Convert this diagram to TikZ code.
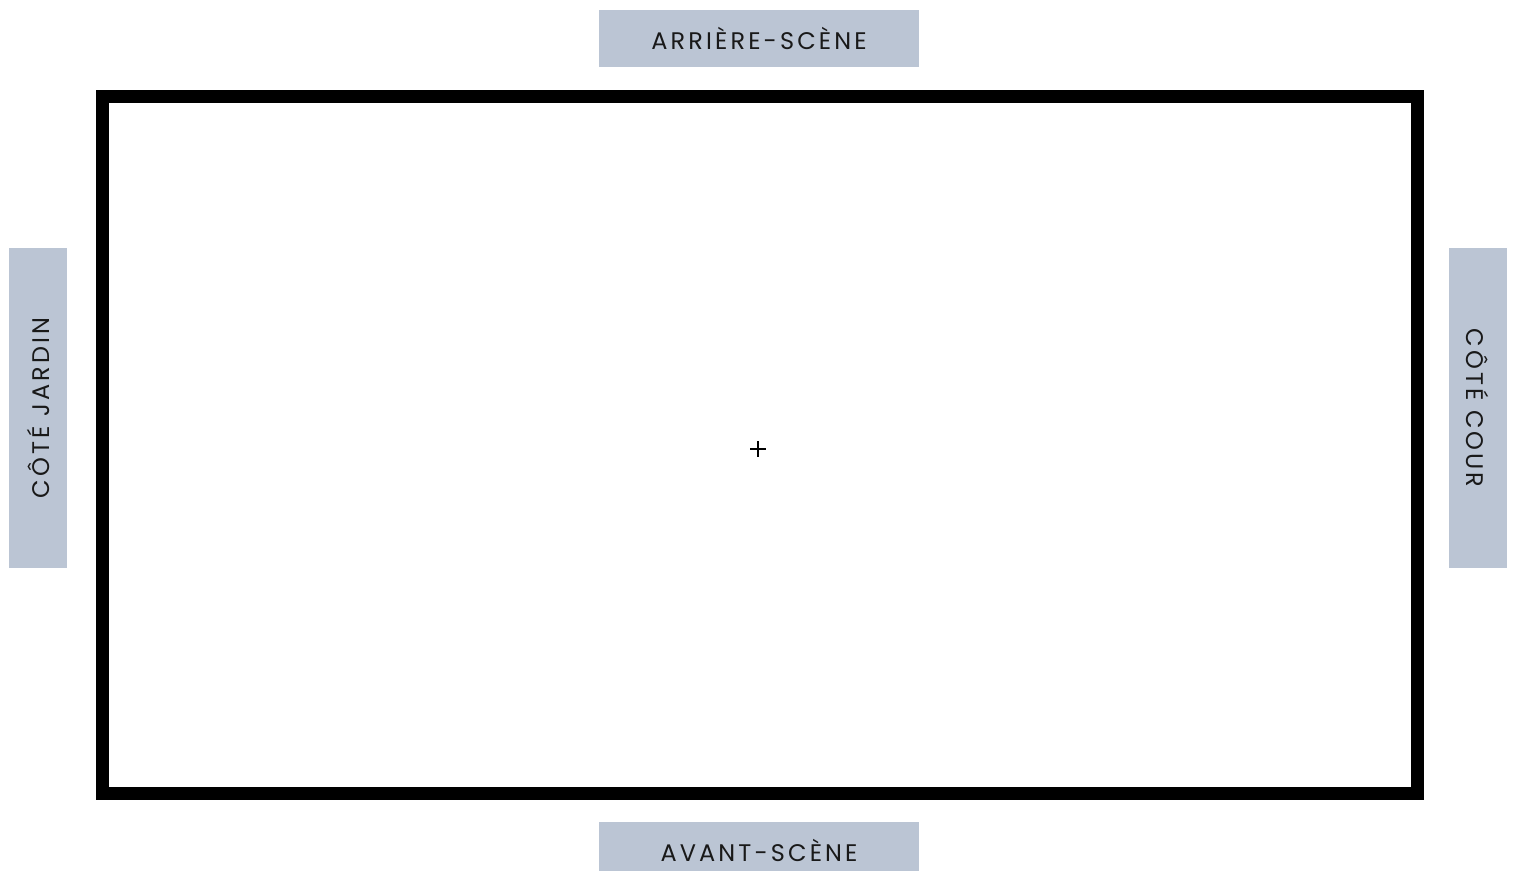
\documentclass[tikz,border=0pt]{standalone}
\usepackage{fontspec}
\setmainfont{Poppins}[LetterSpace=13]
\definecolor{tagfill}{HTML}{BBC5D4}
\begin{document}
\begin{tikzpicture}[x=0.5pt,y=-0.5pt,
  tag/.style={fill=tagfill,inner sep=0pt,font=\fontsize{12}{14}\selectfont,text=black!90},
  htag/.style={tag,minimum width=160pt,minimum height=28.5pt},
  vtag/.style={tag,minimum width=160pt,minimum height=29pt}]
\clip (0,0) rectangle (1515,871);
\fill[white] (0,0) rectangle (1515,871);
% stage outline
\draw[line width=6.5pt] (102.5,96.5) rectangle (1417.5,793);
% side tags
\node[htag] (back) at (759,38.5) {ARRIÈRE-SCÈNE};
\node[htag] (front) at (759,850.5) {AVANT-SCÈNE};
\node[vtag,rotate=90] (jardin) at (38,408) {CÔTÉ JARDIN};
\node[vtag,rotate=-90] (cour) at (1478,408) {CÔTÉ COUR};
% centre mark
\coordinate (c) at (758,449);
\draw[line width=1pt] ([xshift=-4pt]c) -- ([xshift=4pt]c) ([yshift=-4pt]c) -- ([yshift=4pt]c);
\end{tikzpicture}
\end{document}
